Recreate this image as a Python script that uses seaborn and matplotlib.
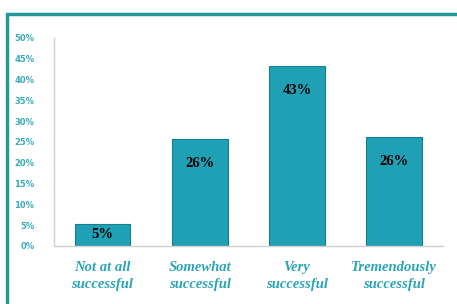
import pandas as pd
import matplotlib.pyplot as plt
import seaborn as sns
from matplotlib.lines import Line2D

sns.set_theme(style="white")

# Data
categories = ['Not at all\nsuccessful', 'Somewhat\nsuccessful', 'Very\nsuccessful', 'Tremendously\nsuccessful']
values = [5.3, 25.7, 43.2, 26.1]
labels = ['5%', '26%', '43%', '26%']
yticks = [0, 5, 10, 15, 20, 25, 30, 35, 40, 45, 50]

df = pd.DataFrame({'category': categories, 'value': values})

teal = '#1fa0b4'
text_teal = '#2aa5b5'

fig = plt.figure(figsize=(4.57, 3.04), dpi=100)
ax = fig.add_axes([0.118, 0.191, 0.851, 0.684])

sns.barplot(data=df, x='category', y='value', color=teal, saturation=1,
            width=0.575, edgecolor='#17808f', linewidth=0.8, ax=ax)

for i, (v, lab) in enumerate(zip(values, labels)):
    y = v - 5.8 if v > 12 else v / 2
    ax.text(i, y, lab, ha='center', va='center', fontsize=10.5, fontweight='bold',
            fontfamily=['Liberation Serif'], color='black')

ax.set_ylim(0, 50)
ax.set_xlim(-0.5, 3.5)
ax.set_yticks(yticks)
ax.set_yticklabels([f'{t}%' for t in yticks], fontsize=6, fontweight='bold', color='#3aabbb')
ax.set_xticks(range(len(categories)))
ax.set_xticklabels(categories, fontsize=10.5, fontweight='bold', fontstyle='italic',
                   fontfamily=['Liberation Serif'], color=text_teal, linespacing=1.4)
ax.tick_params(axis='x', length=0, pad=11)
ax.tick_params(axis='y', length=0, pad=14)
ax.set_xlabel('')
ax.set_ylabel('')

for s in ['top', 'right']:
    ax.spines[s].set_visible(False)
for s in ['left', 'bottom']:
    ax.spines[s].set_color('#d0d0d0')
    ax.spines[s].set_linewidth(1)

# teal frame
fig.add_artist(Line2D([7 / 457, 1], [1 - 14 / 304, 1 - 14 / 304], color='#22979c', linewidth=2.5,
                      transform=fig.transFigure))
fig.add_artist(Line2D([7 / 457, 7 / 457], [0, 1 - 14 / 304], color='#22979c', linewidth=2.5,
                      transform=fig.transFigure))

plt.savefig('out.png', dpi=100)
plt.close()
